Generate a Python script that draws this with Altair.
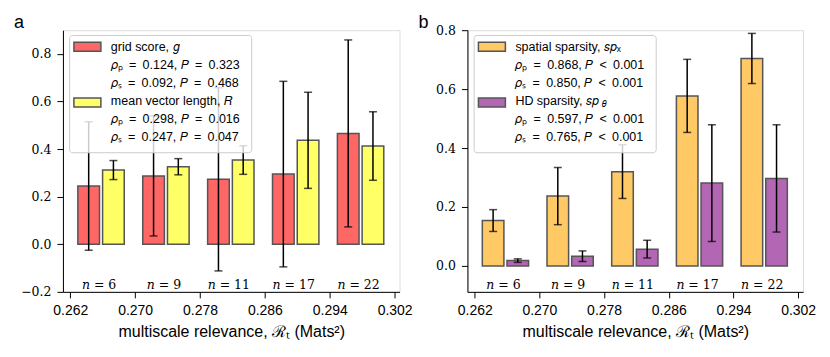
import altair as alt
import pandas as pd

# ---------------- data ----------------
bin_centres = [0.2658, 0.2738, 0.2818, 0.2898, 0.2978]
n_cells = [6, 9, 11, 17, 22]
x_ticks = [0.262, 0.270, 0.278, 0.286, 0.294, 0.302]

grid_mean = [0.245, 0.287, 0.273, 0.295, 0.466]
grid_err = [0.270, 0.252, 0.385, 0.390, 0.393]
mvl_mean = [0.312, 0.326, 0.354, 0.437, 0.413]
mvl_err = [0.040, 0.034, 0.060, 0.202, 0.144]

spat_mean = [0.154, 0.237, 0.320, 0.577, 0.704]
spat_err = [0.037, 0.097, 0.091, 0.124, 0.085]
hd_mean = [0.018, 0.033, 0.057, 0.281, 0.297]
hd_err = [0.006, 0.018, 0.030, 0.198, 0.182]

EQ = "\u2002=\u2002"
LT = "\u2002<\u2002"
legend_a = ["grid score, 𝑔",
            f"𝜌ₚ{EQ}0.124, 𝑃{EQ}0.323", f"𝜌ₛ{EQ}0.092, 𝑃{EQ}0.468",
            "mean vector length, 𝑅",
            f"𝜌ₚ{EQ}0.298, 𝑃{EQ}0.016", f"𝜌ₛ{EQ}0.247, 𝑃{EQ}0.047"]
legend_b = ["spatial sparsity, 𝑠𝑝ₓ",
            f"𝜌ₚ{EQ}0.868, 𝑃{LT}0.001", f"𝜌ₛ{EQ}0.850, 𝑃{LT}0.001",
            "HD sparsity, 𝑠𝑝",
            f"𝜌ₚ{EQ}0.597, 𝑃{LT}0.001", f"𝜌ₛ{EQ}0.765, 𝑃{LT}0.001"]

# ---------------- style ----------------
H = 262
BAR_W = 0.00267
HALF_GAP = 0.00019
X_DOMAIN = [0.2611, 0.3026]
SANS = "Liberation Sans"
SERIF = "DejaVu Serif"
EDGE = "#555555"


def bars_frame(m1, e1, m2, e2, names):
    rows = []
    for i, c in enumerate(bin_centres):
        for k, (m, e, side) in enumerate([(m1[i], e1[i], -1), (m2[i], e2[i], 1)]):
            if side < 0:
                x0, x1 = c - HALF_GAP - BAR_W, c - HALF_GAP
            else:
                x0, x1 = c + HALF_GAP, c + HALF_GAP + BAR_W
            rows.append(dict(series=names[k], x0=x0, x1=x1, xc=(x0 + x1) / 2,
                             mean=m, lo=m - e, hi=m + e))
    return pd.DataFrame(rows)


def panel(df, names, colors, ydom, yticks, legend_lines, letter, w, theta=False):
    xs = alt.Scale(domain=X_DOMAIN, nice=False, zero=False)
    ys = alt.Scale(domain=ydom, nice=False, zero=False)
    cs = alt.Scale(domain=names, range=colors)
    base = alt.Chart(df)
    bars = base.mark_rect(stroke=EDGE, strokeWidth=1.5).encode(
        x=alt.X("x0:Q", scale=xs,
                axis=alt.Axis(values=x_ticks, format=".3f", title="multiscale relevance, ℛₜ (Mats²)",
                              labelFont=SANS, labelFontSize=14, titleFont=SANS, titleFontSize=16,
                              labelFlush=False, tickSize=6, labelPadding=6, titlePadding=6,
                              domainColor="black", tickColor="black", labelColor="black",
                              titleColor="black", titleFontWeight="normal", grid=False)),
        x2="x1:Q",
        y=alt.Y("mean:Q", scale=ys,
                axis=alt.Axis(values=yticks, format=".1f", title=None, labelFont=SERIF,
                              labelFontSize=12.5, tickSize=6, labelPadding=6, grid=False,
                              domainColor="black", tickColor="black", labelColor="black")),
        y2=alt.datum(0),
        fill=alt.Color("series:N", scale=cs, legend=None),
    )
    rules = base.mark_rule(color="black", strokeWidth=1.5).encode(
        x=alt.X("xc:Q", scale=xs), y=alt.Y("lo:Q", scale=ys), y2="hi:Q")
    cap_lo = base.mark_tick(color="black", orient="horizontal", size=8, thickness=1.5).encode(
        x=alt.X("xc:Q", scale=xs), y=alt.Y("lo:Q", scale=ys))
    cap_hi = base.mark_tick(color="black", orient="horizontal", size=8, thickness=1.5).encode(
        x=alt.X("xc:Q", scale=xs), y=alt.Y("hi:Q", scale=ys))

    ndf = pd.DataFrame({"c": bin_centres, "lab": [f"𝑛 = {n}" for n in n_cells]})
    ntext = alt.Chart(ndf).mark_text(font=SERIF, fontSize=12.5, baseline="middle", dx=-2).encode(
        x=alt.X("c:Q", scale=xs), y=alt.value(H - 6.5), text="lab:N")

    one = alt.Data(values=[{}])
    box = alt.Chart(one).mark_rect(fill="white", fillOpacity=0.8, stroke="#cccccc",
                                   strokeWidth=1, cornerRadius=3).encode(
        x=alt.value(6.7), x2=alt.value(189), y=alt.value(5.3), y2=alt.value(122.7))
    sw = pd.DataFrame({"series": names, "py": [12, 68]})
    swatches = alt.Chart(sw).mark_rect(stroke=EDGE, strokeWidth=1.5).encode(
        x=alt.value(11), x2=alt.value(38),
        y=alt.Y("py:Q", scale=None), y2=alt.Y2("py2:Q"),
        fill=alt.Color("series:N", scale=cs, legend=None),
    ).transform_calculate(py2="datum.py + 9")
    ldf = pd.DataFrame({"t": legend_lines, "py": [17 + 18 * i for i in range(6)]})
    ltext = alt.Chart(ldf).mark_text(font=SANS, fontSize=12.5, align="left", baseline="middle",
                                     color="black").encode(
        x=alt.value(48), y=alt.Y("py:Q", scale=None), text="t:N")
    lab = alt.Chart(one).mark_text(font=SANS, fontSize=18, align="left", baseline="alphabetic",
                                   text=letter, color="black").encode(
        x=alt.value(-49), y=alt.value(-2.5))
    layers = [bars, rules, cap_lo, cap_hi, ntext, box, swatches, ltext, lab]
    if theta:
        th = alt.Chart(one).mark_text(font=SANS, fontSize=9, align="left", baseline="middle",
                                      text="𝜃", color="black").encode(
            x=alt.value(134.5), y=alt.value(17 + 18 * 3 + 3))
        layers.append(th)
    return alt.layer(*layers).properties(width=w, height=H)


df_a = bars_frame(grid_mean, grid_err, mvl_mean, mvl_err, ["grid", "mvl"])
df_b = bars_frame(spat_mean, spat_err, hd_mean, hd_err, ["spat", "hd"])

pa = panel(df_a, ["grid", "mvl"], ["#ff6666", "#ffff66"], [-0.2, 0.9],
           [-0.2, 0.0, 0.2, 0.4, 0.6, 0.8], legend_a, "a", 337)
pb = panel(df_b, ["spat", "hd"], ["#ffc966", "#b366b3"], [-0.088, 0.8],
           [0.0, 0.2, 0.4, 0.6, 0.8], legend_b, "b", 336, theta=True)

chart = alt.hconcat(pa, pb, spacing=4).resolve_scale(fill="independent", x="independent",
                                                     y="independent").configure_view(
    stroke="black", strokeWidth=1.2).configure(background="white")

chart.save("out.html", embed_options={"renderer": "svg", "actions": False})
